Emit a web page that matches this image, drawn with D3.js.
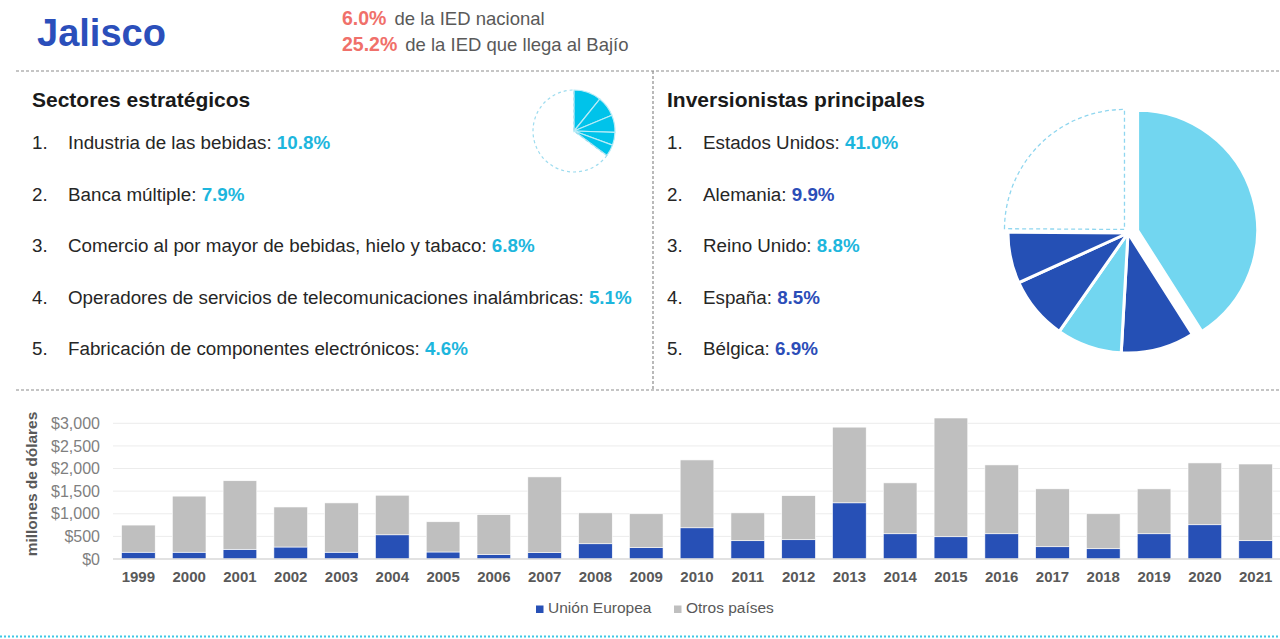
<!DOCTYPE html>
<html>
<head>
<meta charset="utf-8"/>
<title>Jalisco IED</title>
<script src="https://cdn.jsdelivr.net/npm/d3@7"></script>
<style>
  html, body { margin: 0; padding: 0; background: #fff; }
  svg { display: block; font-family: "Liberation Sans", Arial, sans-serif; }
</style>
</head>
<body>
<div id="chart"></div>
<script>
// --- data ---
var headPct = ["6.0%", "25.2%"];
var headTxt = ["de la IED nacional", "de la IED que llega al Bajío"];

var sectores = [
  "Industria de las bebidas",
  "Banca múltiple",
  "Comercio al por mayor de bebidas, hielo y tabaco",
  "Operadores de servicios de telecomunicaciones inalámbricas",
  "Fabricación de componentes electrónicos"
];
var sectoresPct = [10.8, 7.9, 6.8, 5.1, 4.6];

var inversionistas = ["Estados Unidos", "Alemania", "Reino Unido", "España", "Bélgica"];
var inversionistasPct = [41.0, 9.9, 8.8, 8.5, 6.9];
var inversionistasTono = ["claro", "oscuro", "claro", "oscuro", "oscuro"];

var years = ["1999","2000","2001","2002","2003","2004","2005","2006","2007","2008","2009","2010",
             "2011","2012","2013","2014","2015","2016","2017","2018","2019","2020","2021"];
var unionEuropea = [150,150,215,265,150,535,155,95,140,337,250,690,404,426,1242,558,492,558,271,227,558,757,404];
var otrosPaises  = [600,1240,1515,885,1090,875,668,885,1675,683,750,1500,616,974,1673,1125,2625,1522,1280,773,992,1367,1696];
var yTicks = [0, 500, 1000, 1500, 2000, 2500, 3000];
var serieNames = ["Unión Europea", "Otros países"];

// --- colours ---
var blue = "#2750b6", grey = "#bfbfbf", cyanTxt = "#1db6dd", darkTxt = "#2b4db8";
var pieLight = "#72d6f0", pieDark = "#2550b5", smallFill = "#00c3ea";

var W = 1280, H = 639;
var svg = d3.select("#chart").append("svg").attr("width", W).attr("height", H);

// header
svg.append("text").attr("x", 37).attr("y", 46)
  .attr("font-size", 38).attr("font-weight", "bold").attr("fill", "#2b4fbb")
  .text("Jalisco");

headPct.forEach(function(p, i) {
  var t = svg.append("text").attr("x", 342).attr("y", 25 + i * 26).attr("font-size", 18.5);
  t.append("tspan").attr("fill", "#f0706a").attr("font-weight", "bold").attr("font-size", 19.5).text(p);
  t.append("tspan").attr("fill", "#595959").attr("dx", 8).text(headTxt[i]);
});

// dashed separators
var dash = svg.append("g").attr("stroke", "#8c8c8c").attr("stroke-width", 1.2)
  .attr("stroke-dasharray", "3,2").attr("fill", "none");
dash.append("line").attr("x1", 16).attr("x2", W).attr("y1", 71).attr("y2", 71);
dash.append("line").attr("x1", 653).attr("x2", 653).attr("y1", 71).attr("y2", 389);
dash.append("line").attr("x1", 16).attr("x2", W).attr("y1", 390).attr("y2", 390);

// bottom dotted line
svg.append("line").attr("x1", 0).attr("x2", W).attr("y1", 636.5).attr("y2", 636.5)
  .attr("stroke", "#3cc8e6").attr("stroke-width", 2).attr("stroke-dasharray", "2,2");

// lists
function lista(x0, title, names, pcts, colorOf) {
  svg.append("text").attr("x", x0).attr("y", 107)
    .attr("font-size", 21).attr("font-weight", "bold").attr("fill", "#1a1a1a").text(title);
  names.forEach(function(n, i) {
    var y = 149 + i * 51.5;
    svg.append("text").attr("x", x0).attr("y", y).attr("font-size", 18.8).attr("fill", "#262626")
      .text((i + 1) + ".");
    var t = svg.append("text").attr("x", x0 + 36).attr("y", y).attr("font-size", 18.8).attr("fill", "#262626");
    t.append("tspan").text(n + ": ");
    t.append("tspan").attr("font-weight", "bold").attr("fill", colorOf(i))
      .text(d3.format(".1f")(pcts[i]) + "%");
  });
}
lista(32, "Sectores estratégicos", sectores, sectoresPct, function() { return cyanTxt; });
lista(667, "Inversionistas principales", inversionistas, inversionistasPct,
  function(i) { return inversionistasTono[i] === "claro" ? cyanTxt : darkTxt; });

// small pie (sectores)
var smallRest = 100 - d3.sum(sectoresPct);
var smallArcs = d3.pie().sort(null)(sectoresPct.concat([smallRest]));
var smallArc = d3.arc().innerRadius(0).outerRadius(41);
var gs = svg.append("g").attr("transform", "translate(574,131)");
gs.selectAll("path.fill").data(smallArcs.slice(0, 5)).enter().append("path")
  .attr("class", "fill").attr("d", smallArc)
  .attr("fill", smallFill).attr("stroke", "#b8ecf7").attr("stroke-width", 1.2);
gs.append("path").attr("d", smallArc(smallArcs[5]))
  .attr("fill", "none").attr("stroke", "#9edcef").attr("stroke-width", 1.2)
  .attr("stroke-dasharray", "3,3");

// big pie (inversionistas)
var bigRest = 100 - d3.sum(inversionistasPct);
var bigArcs = d3.pie().sort(null)(inversionistasPct.concat([bigRest]));
var bigArc = d3.arc().innerRadius(0).outerRadius(120);
var explode = [10, 0, 0, 0, 0, 5];
var gb = svg.append("g").attr("transform", "translate(1128,233)");
gb.selectAll("path").data(bigArcs).enter().append("path")
  .attr("transform", function(d, i) {
    var a = (d.startAngle + d.endAngle) / 2;
    return "translate(" + (Math.sin(a) * explode[i]) + "," + (-Math.cos(a) * explode[i]) + ")";
  })
  .attr("d", bigArc)
  .attr("fill", function(d, i) {
    if (i === 5) return "none";
    return inversionistasTono[i] === "claro" ? pieLight : pieDark;
  })
  .attr("stroke", function(d, i) { return i === 5 ? "#8fd6ef" : "#fff"; })
  .attr("stroke-width", function(d, i) { return i === 5 ? 1.3 : 3; })
  .attr("stroke-dasharray", function(d, i) { return i === 5 ? "4,3" : null; });

// bar chart
var x = d3.scaleBand().domain(years).range([113, 1281]).paddingInner(0.337).paddingOuter(0.168);
var y = d3.scaleLinear().domain([0, 3000]).range([559, 423.3]);

var gridG = svg.append("g");
gridG.selectAll("line").data(yTicks.slice(1)).enter().append("line")
  .attr("x1", 113).attr("x2", W).attr("y1", function(d) { return y(d); }).attr("y2", function(d) { return y(d); })
  .attr("stroke", "#ececec").attr("stroke-width", 1);

var table = years.map(function(yr, i) { return { year: yr, eu: unionEuropea[i], otros: otrosPaises[i] }; });
var stacked = d3.stack().keys(["eu", "otros"])(table);
var colors = [blue, grey];

svg.append("g").selectAll("g").data(stacked).enter().append("g")
  .attr("fill", function(d, i) { return colors[i]; })
  .selectAll("rect").data(function(d) { return d; }).enter().append("rect")
  .attr("x", function(d) { return x(d.data.year); })
  .attr("width", x.bandwidth())
  .attr("y", function(d) { return y(d[1]); })
  .attr("height", function(d) { return y(d[0]) - y(d[1]); })
  .attr("stroke", "#fff").attr("stroke-width", 0.6);

svg.append("line").attr("x1", 113).attr("x2", W).attr("y1", y(0)).attr("y2", y(0))
  .attr("stroke", "#d9d9d9").attr("stroke-width", 1.5);

// y axis
var yAxis = svg.append("g").attr("transform", "translate(100,0)")
  .call(d3.axisLeft(y).tickValues(yTicks).tickSize(0).tickPadding(0)
    .tickFormat(function(d) { return "$" + d3.format(",")(d); }));
yAxis.select(".domain").remove();
yAxis.selectAll("text").attr("font-size", 16).attr("fill", "#7f7f7f")
  .attr("font-family", "Liberation Sans, Arial, sans-serif");

svg.append("text").attr("transform", "translate(37,484) rotate(-90)")
  .attr("text-anchor", "middle").attr("font-size", 15.5).attr("font-weight", "bold").attr("fill", "#595959")
  .text("millones de dólares");

// x axis
var xAxis = svg.append("g").attr("transform", "translate(0," + y(0) + ")")
  .call(d3.axisBottom(x).tickSize(0).tickPadding(12));
xAxis.select(".domain").remove();
xAxis.selectAll("text").attr("font-size", 15).attr("font-weight", "bold").attr("fill", "#595959")
  .attr("font-family", "Liberation Sans, Arial, sans-serif");

// legend
var legX = [536, 674];
serieNames.forEach(function(n, i) {
  svg.append("rect").attr("x", legX[i]).attr("y", 605.5).attr("width", 7.5).attr("height", 7.5).attr("fill", colors[i]);
  svg.append("text").attr("x", legX[i] + 12).attr("y", 613).attr("font-size", 15.5).attr("fill", "#595959").text(n);
});
</script>
</body>
</html>
